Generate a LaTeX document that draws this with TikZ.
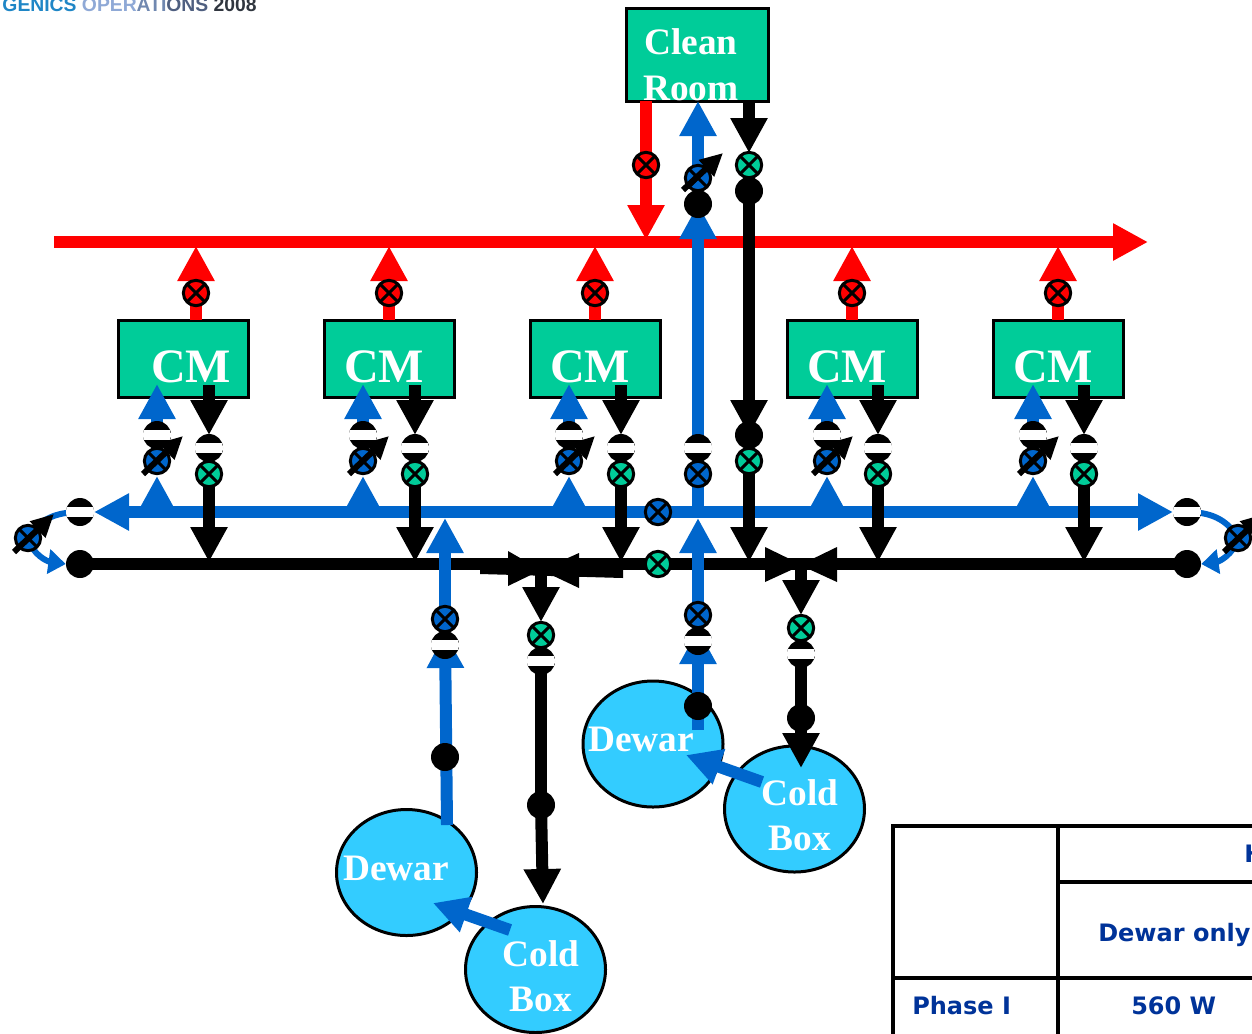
\documentclass[tikz,border=0pt]{standalone}
\usepackage{fontspec}
\setmainfont{Liberation Serif}
\newfontfamily\tablefont{DejaVu Sans}
\newfontfamily\logofont{Liberation Sans}
\usetikzlibrary{arrows.meta,shapes.geometric}
\pgfdeclarelayer{back}
\pgfdeclarelayer{pipes}
\pgfsetlayers{back,pipes,main}
\definecolor{cgreen}{HTML}{00CC99}
\definecolor{cblue}{HTML}{0066CC}
\definecolor{csky}{HTML}{33CCFF}
\definecolor{ctab}{HTML}{003399}
\tikzset{
  x=0.75pt,y=-0.75pt,
  box/.style={draw=black,line width=2.25pt,fill=cgreen,rectangle,anchor=north west,inner sep=0pt,outer sep=0pt},
  vessel/.style={draw=black,line width=2.25pt,fill=csky,ellipse,inner sep=0pt,outer sep=0pt,minimum width=105pt,minimum height=94.5pt},
  valve/.style={circle,draw=black,line width=2.25pt,minimum size=19pt,inner sep=0pt,
    path picture={\draw[black,line width=2.25pt]
      (path picture bounding box.north west)--(path picture bounding box.south east)
      (path picture bounding box.north east)--(path picture bounding box.south west);}},
  rv/.style={valve,fill=red},
  bv/.style={valve,fill=cblue},
  gv/.style={valve,fill=cgreen},
  hx/.style={circle,fill=black,minimum size=21pt,inner sep=0pt,
    path picture={\fill[white]
      ([yshift=-3.6pt]path picture bounding box.west) rectangle ([yshift=3.6pt]path picture bounding box.east);}},
  dot/.style={circle,fill=black,minimum size=21pt,inner sep=0pt},
  headtip/.style={-{Triangle[length=26.25pt,width=26.25pt]}},
  redp/.style={draw=red,line width=9pt},
  bluep/.style={draw=cblue,line width=9pt},
  blackp/.style={draw=black,line width=9pt},
  thinp/.style={draw=cblue,line width=4.5pt},
  meter/.style={draw=black,line width=4.5pt,-{Triangle[length=17pt,width=16pt]}},
  big/.style={text=white,font=\fontsize{28}{30}\selectfont\bfseries,inner sep=0pt},
  cmtext/.style={text=white,font=\fontsize{36}{37}\selectfont\bfseries,inner sep=0pt,anchor=base},
  tabtext/.style={text=ctab,font=\tablefont\fontsize{18}{20}\selectfont\bfseries,inner sep=0pt,anchor=base west},
  tabline/.style={draw=black,line width=3pt},
}
\begin{document}
\begin{tikzpicture}
\useasboundingbox (0,0) rectangle (1252,1033);
\clip (0,0) rectangle (1252,1033);

% logo strip
\node[anchor=base east,inner sep=0pt,font=\logofont\fontsize{14.5}{16}\selectfont\bfseries] (logo) at (257,11)
  {\textcolor[HTML]{1F86C6}{GENICS} \textcolor[HTML]{8FA9D6}{OPER}\textcolor[HTML]{7088B0}{ATI}\textcolor[HTML]{4F5F80}{ONS} \textcolor[HTML]{30363F}{2008}};

% main junction points
\coordinate (redstart) at (54,242);
\coordinate (redend) at (1148,242);
\coordinate (bluel) at (94,512);
\coordinate (bluer) at (1173,512);

\node[dot] (dotl) at (80,564) {};
\node[dot] (dotr) at (1187,564) {};
\node[hx] (hxl) at (80,512) {};
\node[hx] (hxr) at (1187,512) {};
\node[bv] (vloopl) at (28,538) {};
\node[bv] (vloopr) at (1238,538) {};
\node[bv] (vbmain) at (658,512) {};
\node[gv] (vkmain) at (658,564) {};

% clean room
\begin{pgfonlayer}{back}
\node[box,minimum width=106.5pt,minimum height=69.75pt] (clean) at (626,8) {};
\end{pgfonlayer}
\node[big,anchor=base west] (cleant1) at (644,54) {Clean};
\node[big,anchor=base west] (cleant2) at (643,100) {Room};
\node[rv] (vcr) at (646,165) {};
\node[bv] (vcb) at (698,178) {};
\node[dot] (dcb) at (698,204) {};
\node[gv] (vck) at (749,165) {};
\node[dot] (dck) at (749,191) {};
\node[dot] (dck2) at (749,435) {};
\node[gv] (vck2) at (749,461) {};
\node[hx] (hcb) at (698,448) {};
\node[bv] (vcb2) at (698,474) {};
\coordinate (crout) at (646,101);
\coordinate (crin) at (646,240);
\coordinate (cbtop) at (698,101);
\coordinate (cbt) at (698,204);
\coordinate (ckout) at (749,101);
\coordinate (ckv) at (749,153);
\coordinate (ckj) at (749,562);

% lower group 1
\node[hx] (h1) at (445,645) {};
\node[bv] (v1) at (445,619) {};
\node[dot] (d1) at (445,757) {};
\coordinate (b1tip) at (445,518);
\coordinate (b1h) at (445,633);
\coordinate (b1c) at (447,825);
\node[gv] (v2) at (541,635) {};
\node[hx] (h2) at (541,661) {};
\node[dot] (d2) at (541,805) {};
\coordinate (k2tip) at (543,904);
\begin{pgfonlayer}{back}
\node[vessel] (dewar1) at (406.5,872.5) {};
\node[vessel] (cold1) at (535.5,969.5) {};
\node[vessel] (dewar2) at (653,744) {};
\node[vessel] (cold2) at (794.5,809) {};
\end{pgfonlayer}
\node[big,anchor=base west] (dewar1t) at (343,880) {Dewar};
\node[big,anchor=base] (cold1t) at (541,966) {Cold};
\node[big,anchor=base] (box1t) at (541,1011) {Box};
\coordinate (a1s) at (510,930);
\coordinate (a1e) at (433,903);

% lower group 2
\node[dot] (d3) at (698,706) {};
\node[hx] (h3) at (698,641) {};
\node[bv] (v3) at (698,615) {};
\coordinate (b3s) at (698,730);
\coordinate (b3h) at (698,629);
\coordinate (b3tip) at (698,518);
\coordinate (b3u) at (698,512);
\node[gv] (v4) at (801,628) {};
\node[hx] (h4) at (801,654) {};
\node[dot] (d4) at (801,718) {};
\coordinate (k4tip) at (801,768);
\node[big,anchor=base west] (dewar2t) at (588,751) {Dewar};
\node[big,anchor=base] (cold2t) at (800,805) {Cold};
\node[big,anchor=base] (box2t) at (800,850) {Box};
\coordinate (a2s) at (762,782);
\coordinate (a2e) at (686,755);

% bow-tie valves
\coordinate (tie1) at (541,570);
\coordinate (tie2) at (801,565);
\coordinate (tie1d) at (541,622);
\coordinate (tie2d) at (801,615);

\begin{pgfonlayer}{pipes}
  % red header
  \draw[redp,headtip] (redstart) -- (redend);
  \draw[redp,headtip] (crout) -- (crin);
  % blue header
  \draw[bluep,headtip] (vbmain.center) -- (bluel);
  \draw[bluep,headtip] (vbmain.center) -- (bluer);
  % black header
  \draw[blackp] (dotl.center) -- (dotr.center);
  \fill[black] (480,558) -- (623,558) -- (623,578) -- (480,574) -- cycle;
  \fill[black] (508,551) -- (541,570) -- (508,586) -- cycle;
  \fill[black] (579,553) -- (541,570) -- (579,588) -- cycle;
  \fill[black] (765,547) -- (802,565) -- (765,582) -- cycle;
  \fill[black] (837,547) -- (800,565) -- (837,582) -- cycle;
  \draw[blackp,headtip] (tie1) -- (tie1d);
  \draw[blackp,headtip] (tie2) -- (tie2d);
  \draw[blackp,headtip] (ckout) -- (ckv);
  \draw[blackp,headtip] (vck.center) -- (dck2.center);
  \draw[blackp,headtip] (vck2.center) -- (ckj);
  \draw[blackp] (h2.center) -- (d2.center);
  \draw[blackp,headtip] (d2.center) -- (k2tip);
  \draw[blackp] (h4.center) -- (d4.center);
  \draw[blackp,headtip] (d4.center) -- (k4tip);
  % blue risers
  \draw[bluep,headtip] (b3s) -- (b3h);
  \draw[bluep,headtip] (v3.center) -- (b3tip);
  \draw[bluep,headtip] (b3u) -- (cbt);
  \draw[bluep,headtip] (vcb.center) -- (cbtop);
  \draw[bluep,headtip] (b1c) -- (b1h);
  \draw[bluep,headtip] (v1.center) -- (b1tip);
  \draw[bluep,headtip] (a1s) -- (a1e);
  \draw[bluep,headtip] (a2s) -- (a2e);
  % loops
  \draw[thinp] (hxl.center) to[out=180,in=60] (vloopl.center);
  \draw[thinp,-{Triangle[length=13pt,width=18pt]}] (vloopl.center) to[out=-75,in=172] (dotl.west);
  \draw[thinp] (hxr.center) to[out=0,in=120] (vloopr.center);
  \draw[thinp,-{Triangle[length=13pt,width=18pt]}] (vloopr.center) to[out=-105,in=8] (dotr.east);
\end{pgfonlayer}

% diagonal control arrows on the loop and clean room valves
\draw[meter] ([shift={(-14,14)}]vloopl.center) -- ([shift={(26,-24)}]vloopl.center);
\draw[meter] ([shift={(-14,14)}]vloopr.center) -- ([shift={(26,-24)}]vloopr.center);
\draw[meter] ([shift={(-15,12)}]vcb.center) -- ([shift={(25,-25)}]vcb.center);

% cryomodules
\foreach \n/\lx/\bx/\kx/\rx/\tx in {a/118/157/209/196/191,b/324/363/415/389/384,c/530/569/621/595/590,d/787/827/878/852/847,e/993/1033/1084/1058/1053}{
  \begin{pgfonlayer}{back}
    \node[box,minimum width=97.5pt,minimum height=57.75pt] (cm\n) at (\lx,320) {};
  \end{pgfonlayer}
  \node[cmtext] (cmt\n) at (\tx,382) {CM};
  \node[rv] (vr\n) at (\rx,293) {};
  \node[hx] (hb\n) at (\bx,435) {};
  \node[bv] (vb\n) at (\bx,461) {};
  \node[hx] (hk\n) at (\kx,448) {};
  \node[gv] (vk\n) at (\kx,474) {};
  \coordinate (rt\n) at (\rx,320);
  \coordinate (rh\n) at (\rx,246);
  \coordinate (bm\n) at (\bx,512);
  \coordinate (bl\n) at (\bx,476);
  \coordinate (bh\n) at (\bx,384);
  \coordinate (kt\n) at (\kx,385);
  \coordinate (kh\n) at (\kx,435);
  \coordinate (kj\n) at (\kx,562);
  \begin{pgfonlayer}{pipes}
    \draw[redp,headtip] (rt\n) -- (rh\n);
    \draw[bluep,headtip] (bm\n) -- (bl\n);
    \draw[bluep,headtip] (vb\n.center) -- (bh\n);
    \draw[blackp,headtip] (kt\n) -- (kh\n);
    \draw[blackp,headtip] (vk\n.center) -- (kj\n);
  \end{pgfonlayer}
  \draw[meter] ([shift={(-14,13)}]vb\n.center) -- ([shift={(26,-25)}]vb\n.center);
}

% table
\draw[tabline] (893,1040) -- (893,826) -- (1260,826);
\draw[tabline] (1058,826) -- (1058,1040);
\draw[tabline] (1058,882) -- (1260,882);
\draw[tabline] (893,978) -- (1260,978);
\node[tabtext] (th) at (1244,862) {H};
\node[tabtext] (td) at (1098,941) {Dewar only};
\node[tabtext] (tp) at (912,1014) {Phase I};
\node[tabtext] (tw) at (1131,1014) {560 W};
\end{tikzpicture}
\end{document}
